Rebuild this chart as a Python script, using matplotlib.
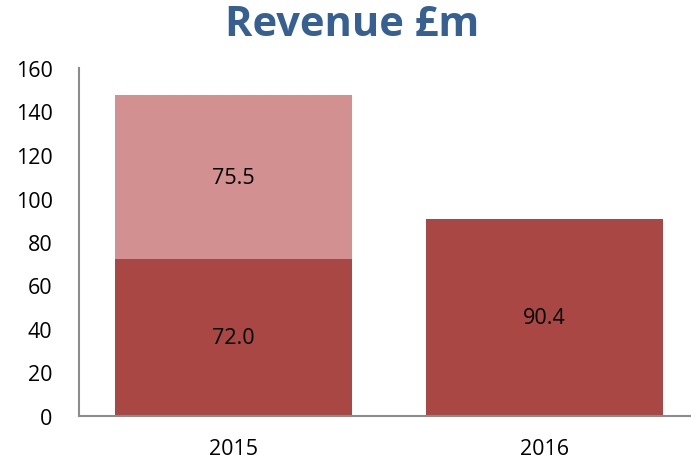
import matplotlib.pyplot as plt

years = ['2015', '2016']
base = [72.0, 90.4]
extra = [75.5, 0]

dark = '#A84744'
light = '#D29190'

plt.rcParams['font.family'] = ['Open Sans', 'DejaVu Sans']

fig = plt.figure(figsize=(6.91, 4.64), dpi=100)
ax = fig.add_axes([79/691, 47/464, 612/691, 348/464])

x = range(len(years))
ax.bar(x, base, width=0.762, color=dark)
ax.bar(x, extra, width=0.762, bottom=base, color=light)

for i in x:
    ax.text(i, base[i] / 2, f'{base[i]:.1f}', ha='center', va='center', fontsize=15.5)
    if extra[i]:
        ax.text(i, base[i] + extra[i] / 2, f'{extra[i]:.1f}', ha='center', va='center', fontsize=15.5)

ax.set_xlim(-0.495, 1.47)
ax.set_ylim(0, 160)
ax.set_yticks(range(0, 161, 20))
ax.set_xticks(list(x))
ax.set_xticklabels(years)
ax.tick_params(length=0, labelsize=15.5)
ax.tick_params(axis='x', pad=16)
ax.tick_params(axis='y', pad=19)

for s in ['top', 'right']:
    ax.spines[s].set_visible(False)
for s in ['left', 'bottom']:
    ax.spines[s].set_color('#8c8c8c')
    ax.spines[s].set_linewidth(1.5)

fig.text(0.51, 0.945, 'Revenue £m', ha='center', va='center', fontsize=30,
         fontweight='bold', color='#366092')

fig.savefig('out.png', dpi=100)
